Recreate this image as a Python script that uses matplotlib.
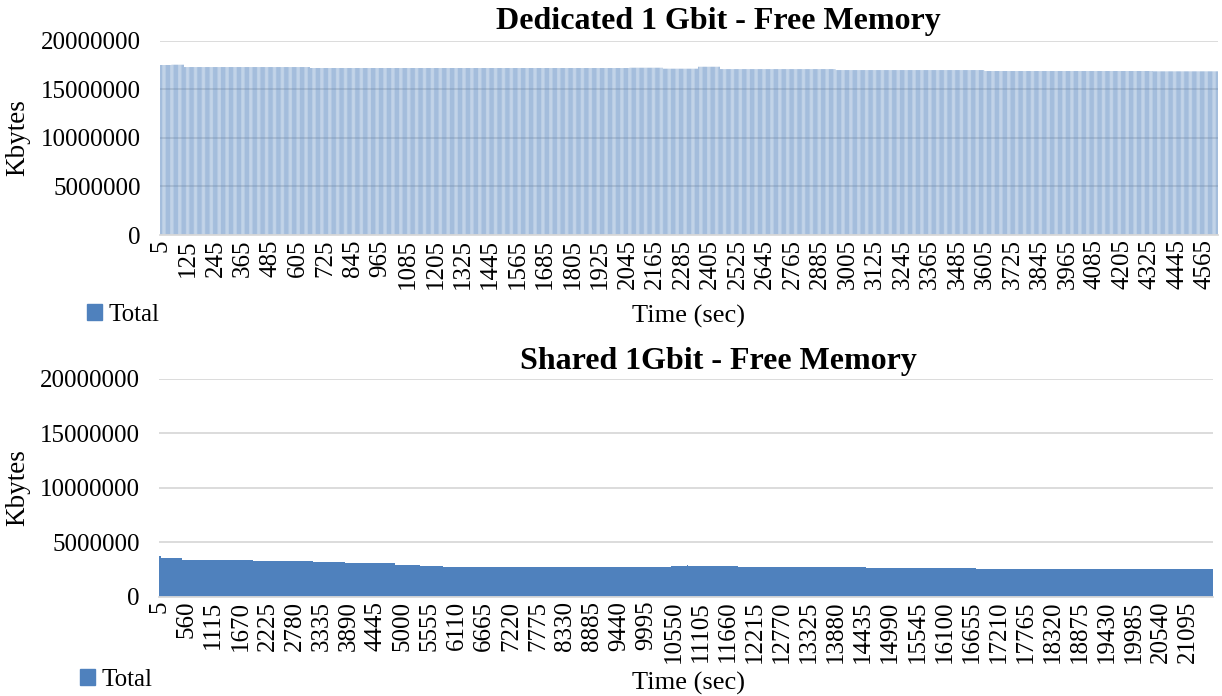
import numpy as np
import matplotlib
matplotlib.use("Agg")
import matplotlib.pyplot as plt
from matplotlib.patches import Patch

plt.rcParams['font.family'] = ['Liberation Serif', 'DejaVu Serif']

# ---- Data (run-length encoded step levels) ----
time_step = 5  # seconds between samples

# Dedicated 1 Gbit - Free Memory (Kbytes)
top_levels = [17500000, 17530000, 17290000, 17190000, 17220000, 17120000,
              17320000, 17080000, 16980000, 16880000, 16850000]
top_counts = [10, 11, 110, 279, 29, 31, 19, 101, 130, 147, 57]
top_tick_every = 24  # labels 5, 125, 245, ...

# Shared 1Gbit - Free Memory (Kbytes)
bot_levels = [3730000, 3520000, 3400000, 3280000, 3180000, 3060000, 2910000,
              2820000, 2700000, 2820000, 2940000, 2820000, 2720000, 2750000,
              2700000, 2630000, 2600000, 2510000, 2570000]
bot_counts = [8, 86, 292, 246, 131, 205, 103, 94, 932, 69, 4, 202, 271, 119,
              135, 193, 258, 915, 57]
bot_tick_every = 111  # labels 5, 560, 1115, ...

series_name = "Total"
titles = ["Dedicated 1 Gbit - Free Memory", "Shared 1Gbit - Free Memory"]
ylabel = "Kbytes"
xlabel = "Time (sec)"

BLUE = '#4f81bd'
GRID = '#d9d9d9'

top_vals = np.repeat(top_levels, top_counts)
bot_vals = np.repeat(bot_levels, bot_counts)
top_times = time_step * (np.arange(len(top_vals)) + 1)
bot_times = time_step * (np.arange(len(bot_vals)) + 1)

W, H = 1222, 696
fig = plt.figure(figsize=(W / 100, H / 100), dpi=100)

def px_axes(l, r, t, b):
    return fig.add_axes([l / W, 1 - b / H, (r - l) / W, (b - t) / H])

ax1 = px_axes(160, 1218, 40.7, 235)
ax2 = px_axes(159, 1213, 378.7, 596.7)

def style(ax, times, vals, every, width, snap, title, title_y, leg_xy, xlab_y):
    x = np.arange(len(vals))
    bars = ax.bar(x, vals, width=width, color=BLUE, linewidth=0, zorder=2)
    for b in bars:
        b.set_snap(snap)
    ax.set_xlim(-0.5, len(vals) - 0.5)
    ax.set_ylim(0, 20000000)
    ax.set_yticks([0, 5000000, 10000000, 15000000, 20000000])
    ax.yaxis.set_major_formatter(matplotlib.ticker.FuncFormatter(lambda v, p: f"{int(v)}"))
    idx = x[::every]
    ax.set_xticks(idx)
    ax.set_xticklabels([str(t) for t in times[::every]], rotation=90, fontsize=18)
    ax.tick_params(axis='y', labelsize=18, length=0, pad=14)
    ax.tick_params(axis='x', length=0, pad=3)
    ax.grid(axis='y', color=GRID, linewidth=1.3, zorder=1)
    ax.set_axisbelow(True)
    for s in ['top', 'right', 'left']:
        ax.spines[s].set_visible(False)
    ax.spines['bottom'].set_color(GRID)
    ax.spines['bottom'].set_linewidth(1.3)
    ax.set_ylabel(ylabel, fontsize=19.5)
    fig.text(718 / W, 1 - title_y / H, title, ha='center', va='center',
             fontsize=23, fontweight='bold')
    fig.text(689 / W, 1 - xlab_y / H, xlabel, ha='center', va='center', fontsize=19)
    fig.legend(handles=[Patch(color=BLUE, label=series_name)],
               loc='center left', bbox_to_anchor=(leg_xy[0] / W, 1 - leg_xy[1] / H),
               frameon=False, fontsize=18, handlelength=0.6, handleheight=0.6,
               handletextpad=0.25, borderpad=0, borderaxespad=0)

style(ax1, top_times, top_vals, top_tick_every, 0.45, False, titles[0], 21, (87, 315), 316)
style(ax2, bot_times, bot_vals, bot_tick_every, 1.0, True, titles[1], 361, (80, 680), 683)

ax1.yaxis.set_label_coords((30 - 160) / 1058, 0.5)
ax2.yaxis.set_label_coords((30 - 159) / 1054, 0.5)

fig.savefig("out.png", dpi=100)
